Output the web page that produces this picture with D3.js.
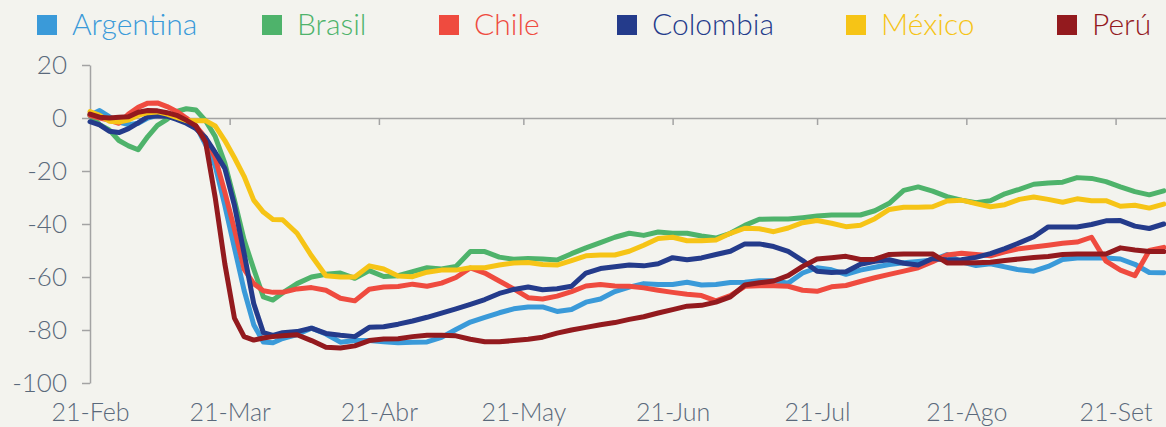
<!DOCTYPE html>
<html>
<head>
<meta charset="utf-8">
<script src="https://cdn.jsdelivr.net/npm/d3@7"></script>
<style>
  html, body { margin: 0; padding: 0; background: #f3f3ee; }
  svg { display: block; }
  text { font-family: Lato, "Open Sans", "DejaVu Sans", sans-serif; }
</style>
</head>
<body>
<svg id="chart" width="1166" height="427"></svg>
<script>
// ---------------- data ----------------
const startDate = "2020-02-21";
const endDate = "2020-10-02";
const dayOffsets = [0,2,4,6,8,10,12,14,16,18,20,22,24,26,28,30,32,34,36,38,40,
  43,46,49,52,55,58,61,64,67,70,73,76,79,82,85,88,91,94,97,100,103,106,109,112,115,118,
  121,124,127,130,133,136,139,142,145,148,151,154,157,160,163,166,169,172,175,178,181,
  184,187,190,193,196,199,202,205,208,211,214,217,220,223];

const countries = ["Argentina", "Brasil", "Chile", "Colombia", "México", "Perú"];
const colors = ["#3a9ad9", "#4eb36b", "#ef4b3f", "#243b8b", "#f6c416", "#931a1e"];

const argentina = [1,2.8,0.5,-1.5,-2.5,-2,0,1,1.5,1,-0.5,-3,-10,-18,-33,-49,-65,-78,-84.5,-84.8,-83.2,
  -81.7,-79.3,-81.5,-84.6,-84,-84,-84.4,-84.8,-84.6,-84.5,-82.8,-79.8,-77,-75.2,-73.5,-72,-71.3,-71.3,-73,-72.3,
  -69.5,-68.3,-65.5,-63.8,-62.5,-62.8,-62.8,-62,-63,-62.8,-62.1,-62,-61.4,-61.4,-62.3,-58.5,-56.5,-57.3,-59,-57.4,
  -56.3,-55.3,-54.6,-54.1,-53.6,-51.5,-54.3,-55.7,-55,-56.2,-57.3,-57.8,-56,-53.4,-52.8,-52.8,-52.8,-53.2,-55.2,-58.3,-58.4];

const brasil = [1,-2.5,-4.5,-8.5,-10.5,-12,-7,-2.8,-0.5,2.5,3.5,3,-1,-7,-17,-31,-46,-57,-67.5,-68.7,-66,
  -62.5,-60,-59,-58.5,-60.5,-57.6,-59.8,-59.5,-58,-56.5,-57,-56,-50.4,-50.4,-52.5,-53.3,-53,-53.2,-53.6,-51.2,
  -49,-47,-45,-43.5,-44.3,-43,-43.5,-43.5,-44.5,-45.3,-43.5,-40.5,-38.2,-38.1,-38.1,-37.6,-37,-36.6,-36.6,-36.6,
  -35,-32.2,-27.3,-26,-27.6,-29.7,-31,-32,-31.2,-28.6,-26.9,-25,-24.5,-24.2,-22.5,-22.8,-24,-26,-27.8,-29,-27.5];

const chile = [1,0,-0.8,-2,1.5,4,5.6,5.7,4.3,2.5,0,-3,-7.5,-15,-28,-42,-57,-62.5,-65.2,-65.8,-65.8,
  -64.5,-64,-65,-68,-69,-64.6,-63.8,-63.6,-62.7,-63.5,-62.3,-60.2,-56.6,-58.5,-61.5,-64.5,-67.8,-68.3,-67.2,-65.5,
  -63.4,-62.8,-63.4,-63.5,-64.1,-65,-65.8,-66.5,-67,-69,-67,-63.5,-63.3,-63.3,-63.5,-65,-65.4,-63.7,-63.2,-61.7,
  -60.3,-59,-57.8,-56.5,-54.2,-51.7,-51,-51.5,-52,-50.5,-49.3,-48.7,-48,-47.3,-46.8,-45,-54,-57.4,-59.5,-50,-48.8];

const colombia = [-1.4,-2.6,-5,-5.5,-4,-1.8,0.5,0.8,0.7,-0.5,-2,-4,-7.5,-13,-19,-33,-51,-70,-81,-82,-81,
  -80.6,-79.3,-81.3,-82,-82.5,-79,-78.8,-77.8,-76.6,-75.2,-73.6,-72,-70.3,-68.5,-66.2,-64.7,-63.8,-64.8,-64.4,-63.5,
  -58.5,-56.8,-56.1,-55.5,-55.8,-55,-52.7,-53.5,-52.8,-51.5,-50.3,-47.5,-47.5,-48.5,-50.3,-53.8,-57.8,-58.3,-58,-55.2,
  -54.1,-53.5,-54.8,-55.5,-53,-53.6,-53.5,-52.6,-51.2,-49.3,-47.1,-44.8,-41.1,-41.1,-41.1,-40.2,-38.8,-38.7,-40.8,-41.7,-40];

const mexico = [2.4,1,-1.2,-1.5,-0.8,1,2,2.3,1.5,0.2,-1,-1,-1,-3,-8.5,-15,-22,-31,-35.5,-38.3,-38.4,
  -43.5,-52,-59.5,-60,-60,-55.8,-57,-59.6,-59.9,-58.2,-57.4,-57.4,-56.5,-56.5,-55.5,-54.7,-54.5,-55.3,-55.5,-53.8,
  -52,-51.7,-51.7,-50.3,-48,-45.5,-45,-46.3,-46.3,-46,-43.5,-41.6,-41.8,-42.9,-41.5,-39.5,-38.7,-39.7,-41,-40.5,
  -38,-34.5,-33.7,-33.7,-33.5,-31.3,-31,-32.3,-33.5,-32.7,-30.7,-29.8,-30.7,-31.8,-30.5,-31.2,-31.2,-33.3,-32.9,-34,-32.5];

const peru = [1.5,0.3,0,0.3,0.5,2.2,2.8,2.7,2,1,-0.8,-3,-9,-30,-55,-75.5,-82.5,-83.8,-83,-82.5,-82.2,
  -81.8,-84,-86.5,-86.8,-86,-84,-83.4,-83.3,-82.5,-82,-82,-82.2,-83.5,-84.4,-84.4,-84,-83.5,-82.7,-81.2,-80,
  -79,-78,-77.2,-76,-75,-73.6,-72.3,-71,-70.7,-69.5,-67.5,-63,-62.2,-61.5,-59.5,-56,-53.2,-52.7,-52.2,-53.4,
  -53.3,-51.5,-51.3,-51.3,-51.3,-54.7,-54.7,-54.6,-54.4,-53.8,-53.2,-52.6,-52.3,-51.5,-51.3,-51.3,-51.3,-49,-49.8,-50.4,-50.4];

const seriesValues = [argentina, brasil, chile, colombia, mexico, peru];

const yTicks = [20, 0, -20, -40, -60, -80, -100];
const xTickDates = ["2020-02-21","2020-03-21","2020-04-21","2020-05-21","2020-06-21","2020-07-21","2020-08-21","2020-09-21"];
const xTickLabels = ["21-Feb","21-Mar","21-Abr","21-May","21-Jun","21-Jul","21-Ago","21-Set"];

// ---------------- layout ----------------
const legendX = [37, 262, 439, 617, 846, 1057];
const axisColor = "#a3a3a3";
const labelColor = "#5a697b";

const parse = d3.timeParse("%Y-%m-%d");
const t0 = parse(startDate);
const dates = dayOffsets.map(d => d3.timeDay.offset(t0, d));

const x = d3.scaleTime().domain([t0, parse(endDate)]).range([90, 90 + 224 * 4.815]);
const y = d3.scaleLinear().domain([-100, 20]).range([383, 65]);

const svg = d3.select("#chart");

// y axis
const yAxis = svg.append("g")
  .attr("transform", "translate(90,0)")
  .call(d3.axisLeft(y).tickValues(yTicks).tickSize(8).tickSizeOuter(0).tickPadding(15).tickFormat(d => String(d)));
yAxis.select(".domain").attr("stroke", axisColor).attr("stroke-width", 1.5);
yAxis.selectAll(".tick line").attr("stroke", axisColor).attr("stroke-width", 1.5);
yAxis.selectAll(".tick text").attr("fill", labelColor).style("font-size", "26px").style("font-weight", 300);

// x axis line at zero with ticks pointing down
const xTickObjs = xTickDates.map(parse);
const xAxis = svg.append("g")
  .attr("transform", `translate(0,${y(0)})`)
  .call(d3.axisBottom(x).tickValues(xTickObjs.slice(1)).tickSize(7).tickSizeOuter(0).tickFormat(""));
xAxis.select(".domain").attr("stroke", axisColor).attr("stroke-width", 1.5);
xAxis.selectAll(".tick line").attr("stroke", axisColor).attr("stroke-width", 1.5);

// x labels at the bottom
const xLab = svg.append("g")
  .attr("transform", "translate(0,398)")
  .call(d3.axisBottom(x).tickValues(xTickObjs).tickSize(0).tickPadding(5)
    .tickFormat((d, i) => xTickLabels[i]));
xLab.select(".domain").remove();
xLab.selectAll(".tick text").attr("fill", labelColor).style("font-size", "25px").style("font-weight", 300);

// lines
const line = d3.line()
  .x((d, i) => x(dates[i]))
  .y(d => y(d))
  .curve(d3.curveLinear);

svg.append("g").selectAll("path.series")
  .data(seriesValues)
  .join("path")
  .attr("class", "series")
  .attr("d", d => line(d))
  .attr("fill", "none")
  .attr("stroke", (d, i) => colors[i])
  .attr("stroke-width", 5)
  .attr("stroke-linejoin", "round")
  .attr("stroke-linecap", "round");

// legend
const leg = svg.append("g").selectAll("g")
  .data(countries)
  .join("g")
  .attr("transform", (d, i) => `translate(${legendX[i]},0)`);
leg.append("rect").attr("x", 0).attr("y", 15).attr("width", 20).attr("height", 20)
  .attr("fill", (d, i) => colors[i]);
leg.append("text").attr("x", 35).attr("y", 35)
  .attr("fill", (d, i) => colors[i])
  .style("font-size", "30px").style("font-weight", 300)
  .text(d => d);
</script>
</body>
</html>
